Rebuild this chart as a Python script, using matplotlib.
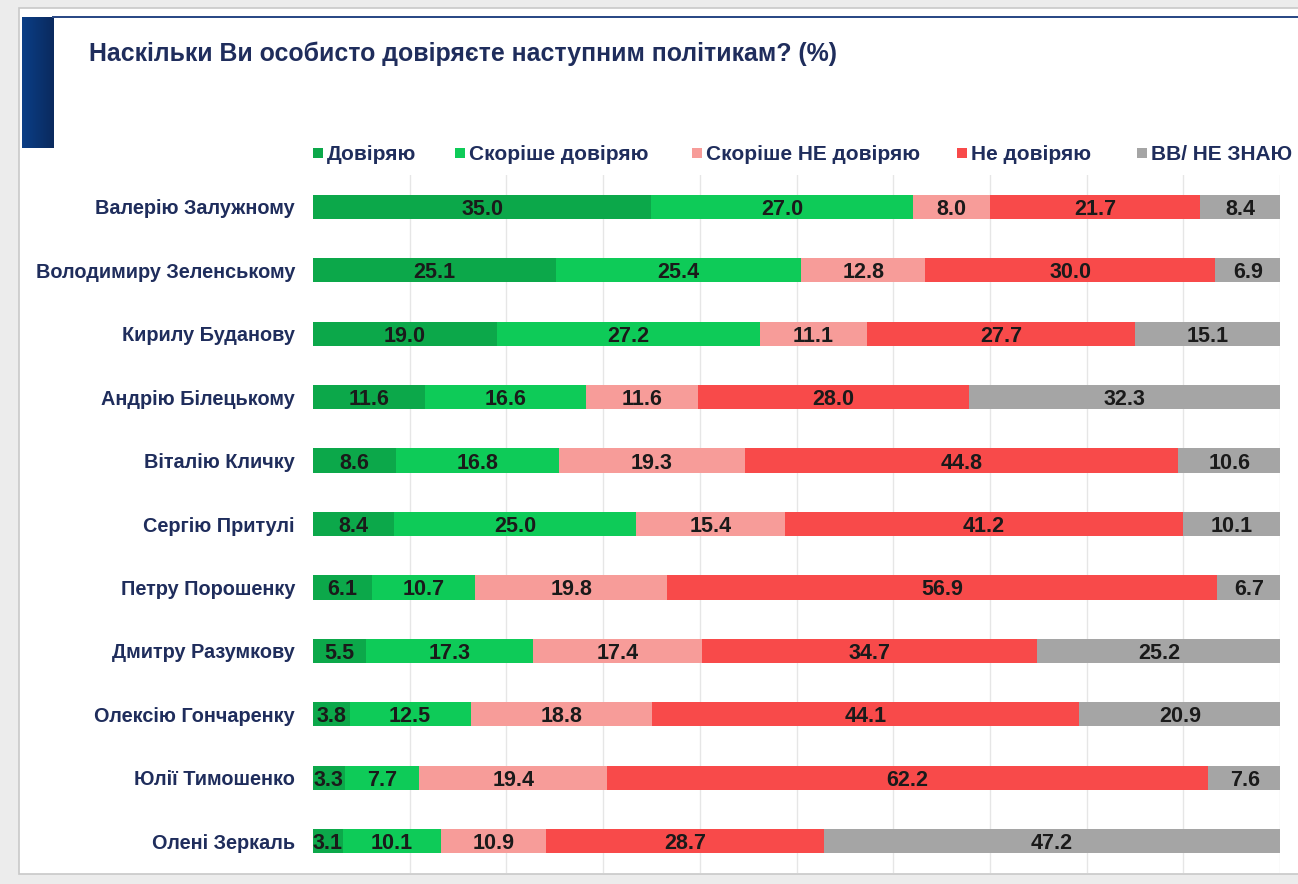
import matplotlib
matplotlib.use("Agg")
import matplotlib.pyplot as plt
from matplotlib.patches import Rectangle
import numpy as np

plt.rcParams['font.family'] = ['Liberation Sans', 'DejaVu Sans']

title = "Наскільки Ви особисто довіряєте наступним політикам? (%)"
politicians = ["Валерію Залужному", "Володимиру Зеленському", "Кирилу Буданову",
               "Андрію Білецькому", "Віталію Кличку", "Сергію Притулі",
               "Петру Порошенку", "Дмитру Разумкову", "Олексію Гончаренку",
               "Юлії Тимошенко", "Олені Зеркаль"]
series_names = ["Довіряю", "Скоріше довіряю", "Скоріше НЕ довіряю", "Не довіряю", "ВВ/ НЕ ЗНАЮ"]
trust = [35.0, 25.1, 19.0, 11.6, 8.6, 8.4, 6.1, 5.5, 3.8, 3.3, 3.1]
rather_trust = [27.0, 25.4, 27.2, 16.6, 16.8, 25.0, 10.7, 17.3, 12.5, 7.7, 10.1]
rather_distrust = [8.0, 12.8, 11.1, 11.6, 19.3, 15.4, 19.8, 17.4, 18.8, 19.4, 10.9]
distrust = [21.7, 30.0, 27.7, 28.0, 44.8, 41.2, 56.9, 34.7, 44.1, 62.2, 28.7]
dont_know = [8.4, 6.9, 15.1, 32.3, 10.6, 10.1, 6.7, 25.2, 20.9, 7.6, 47.2]

colors = ["#0ca84a", "#0ecb58", "#f79c99", "#f84a4a", "#a5a5a5"]
navy = "#1f2d5c"

W, H = 1298, 884
fig = plt.figure(figsize=(W / 100, H / 100), dpi=100)
fig.patch.set_facecolor("#ececec")

def px_rect(x0, y0, x1, y1, **kw):
    r = Rectangle((x0 / W, 1 - y1 / H), (x1 - x0) / W, (y1 - y0) / H,
                  transform=fig.transFigure, **kw)
    fig.add_artist(r)
    return r

# slide panel
px_rect(19, 8, W + 5, 874, facecolor="white", edgecolor="#c8c8c8", linewidth=1.2, zorder=0)
# blue decorative bar with gradient
gax = fig.add_axes([22 / W, 1 - 148 / H, 31 / W, (148 - 17) / H])
gax.imshow(np.tile(np.linspace(0, 1, 32), (10, 1)),
           cmap=matplotlib.colors.LinearSegmentedColormap.from_list("b", ["#0b3e86", "#0a2a5e"]),
           aspect="auto", extent=[0, 1, 0, 1])
gax.axis("off")
# top navy line
px_rect(52, 16, W + 5, 18, facecolor="#2b4a86", edgecolor="none", zorder=1)

fig.text(89 / W, 1 - 54 / H, title, fontsize=17.95, fontweight="bold", color=navy,
         ha="left", va="center")

ax = fig.add_axes([313 / W, 1 - 873 / H, (1280 - 313) / W, (873 - 175) / H])
ax.set_facecolor("none")
y = np.arange(len(politicians))
data = [trust, rather_trust, rather_distrust, distrust, dont_know]
left = np.zeros(len(politicians))
for vals, c, name in zip(data, colors, series_names):
    vals = np.array(vals)
    ax.barh(y, vals, left=left, height=0.38, color=c, label=name, zorder=2)
    for yi, (l, v) in enumerate(zip(left, vals)):
        ax.text(l + v / 2, yi + 0.04, f"{v:.1f}", ha="center", va="center",
                fontsize=15.5, fontweight="bold", color="#1a1a1a", zorder=3)
    left += vals

ax.set_xlim(0, 100)
ax.set_ylim(len(politicians) - 0.5, -0.5)
ax.set_xticks(np.arange(10, 101, 10))
ax.xaxis.grid(True, color="#e6e6e6", linewidth=1, zorder=0)
ax.tick_params(axis="x", length=0, labelbottom=False)
ax.tick_params(axis="y", length=0, pad=13)
ax.set_yticks(y)
ax.set_yticklabels(politicians, fontsize=14.3, fontweight="bold", color=navy)
for s in ax.spines.values():
    s.set_visible(False)

# legend laid out like the original slide
legend_x = [313, 455, 692, 957, 1137]
legend_y = 153
for lx, c, name in zip(legend_x, colors, series_names):
    px_rect(lx, legend_y - 5, lx + 10, legend_y + 5, facecolor=c, edgecolor="none", zorder=3)
    fig.text((lx + 14) / W, 1 - (legend_y + 1.5) / H, name, fontsize=15, fontweight="bold",
             color=navy, ha="left", va="center")

fig.savefig("out.png", dpi=100, facecolor=fig.get_facecolor())
